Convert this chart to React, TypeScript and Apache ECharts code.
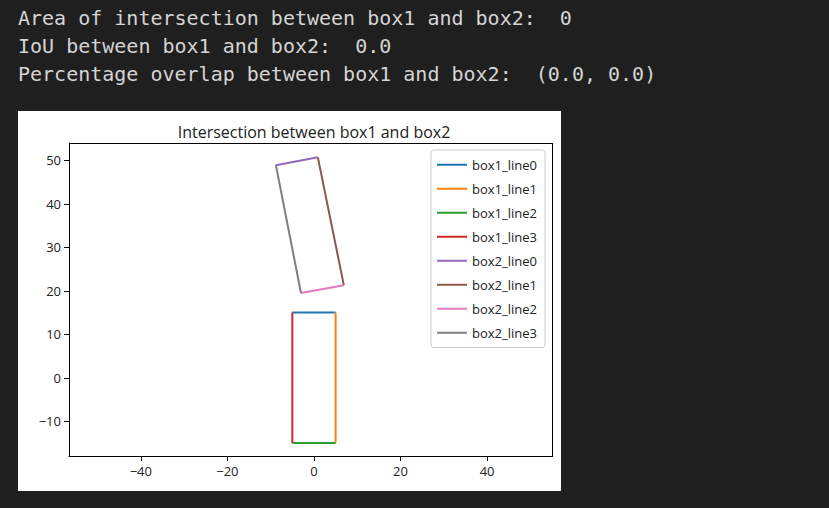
import React, { useRef, useEffect } from 'react';
import * as echarts from 'echarts';

const seriesNames = ['box1_line0', 'box1_line1', 'box1_line2', 'box1_line3', 'box2_line0', 'box2_line1', 'box2_line2', 'box2_line3'];
const colors = ['#1f77b4', '#ff7f0e', '#2ca02c', '#d62728', '#9467bd', '#8c564b', '#e377c2', '#7f7f7f'];
const segments: number[][][] = [
  [[-5, 15], [5, 15]],
  [[5, 15], [5, -15]],
  [[5, -15], [-5, -15]],
  [[-5, -15], [-5, 15]],
  [[-8.8, 48.9], [0.9, 50.7]],
  [[0.9, 50.7], [6.9, 21.3]],
  [[6.9, 21.3], [-3, 19.5]],
  [[-3, 19.5], [-8.8, 48.9]],
];
const xTicks = [-40, -20, 0, 20, 40];
const yTicks = [-10, 0, 10, 20, 30, 40, 50];
const textLines = [
  'Area of intersection between box1 and box2:  0',
  'IoU between box1 and box2:  0.0',
  'Percentage overlap between box1 and box2:  (0.0, 0.0)',
];

const App: React.FC = () => {
  const chartRef = useRef<HTMLDivElement>(null);

  useEffect(() => {
    document.body.style.margin = '0';
    if (!chartRef.current) return;
    const chart = echarts.init(chartRef.current, null, { renderer: 'svg' });
    const font = 'DejaVu Sans';
    const fmt = (v: number) => (v < 0 ? '\u2212' + -v : String(v));
    chart.setOption({
      animation: false,
      backgroundColor: '#fff',
      title: {
        text: 'Intersection between box1 and box2',
        left: 291, top: 8, textAlign: 'center',
        textStyle: { fontFamily: 'Open Sans', fontSize: 16, fontWeight: 'normal', color: '#222' },
      },
      grid: { left: 51, top: 32, right: 9, bottom: 35 },
      legend: {
        orient: 'vertical', right: 16, top: 39,
        itemWidth: 30, itemHeight: 2, itemGap: 6.5,
        icon: 'rect',
        padding: [6, 8, 6, 6],
        borderColor: '#ccc', borderWidth: 1, borderRadius: 3,
        backgroundColor: '#fff',
        textStyle: { fontFamily: 'Open Sans', fontSize: 13, lineHeight: 17.5, color: '#222' },
        data: seriesNames,
      },
      xAxis: {
        type: 'value', min: -56.6, max: 55,
        axisLine: { onZero: false, lineStyle: { color: '#000' } },
        axisTick: { show: true, customValues: xTicks, lineStyle: { color: '#000' } },
        axisLabel: { customValues: xTicks, fontFamily: 'Open Sans', fontSize: 13, color: '#222', formatter: fmt },
        splitLine: { show: false },
      },
      yAxis: {
        type: 'value', min: -18, max: 54,
        axisLine: { show: true, onZero: false, lineStyle: { color: '#000' } },
        axisTick: { show: true, customValues: yTicks, lineStyle: { color: '#000' } },
        axisLabel: { customValues: yTicks, fontFamily: 'Open Sans', fontSize: 13, color: '#222', formatter: fmt },
        splitLine: { show: false },
      },
      series: seriesNames.map((name, i) => ({
        name, type: 'line', data: segments[i], showSymbol: false,
        lineStyle: { width: 2, color: colors[i] }, itemStyle: { color: colors[i] },
      })),
    });
    return () => chart.dispose();
  }, []);

  return (
    <div style={{ width: 829, height: 508, background: '#1f1f1f', position: 'relative', overflow: 'hidden' }}>
      <pre style={{ position: 'absolute', left: 18, top: 4, margin: 0, fontFamily: 'DejaVu Sans Mono', fontSize: 20, lineHeight: '28px', color: '#d4d4d4' }}>
        {textLines.join('\n')}
      </pre>
      <div ref={chartRef} style={{ position: 'absolute', left: 18, top: 111, width: 543, height: 380 }} />
      <div style={{ position: 'absolute', zIndex: 2, left: 69, top: 143, width: 484, height: 314, border: '1px solid #000', boxSizing: 'border-box', pointerEvents: 'none' }} />
    </div>
  );
};

export default App;
